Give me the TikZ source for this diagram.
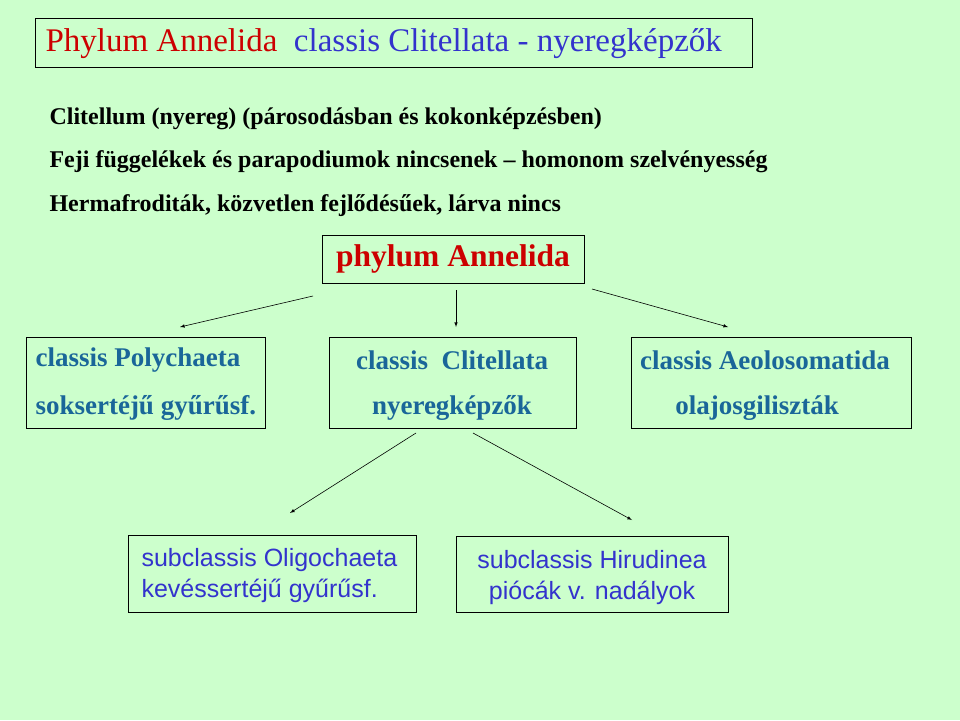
\documentclass[tikz,border=0pt]{standalone}
\usepackage{fontspec}
\setmainfont{Liberation Serif}
\setsansfont{Liberation Sans}
\definecolor{bggreen}{HTML}{CCFFCC}
\definecolor{titlered}{HTML}{CC0000}
\definecolor{titleblue}{HTML}{3333CC}
\definecolor{classblue}{HTML}{1A6699}
\begin{document}
\begin{tikzpicture}[x=1pt,y=-1pt]
\tikzstyle{box}=[draw, thick, inner sep=0pt]
\tikzstyle{line}=[font=\fontsize{24}{28}\selectfont\bfseries, anchor=west]
\tikzstyle{cls}=[text=classblue, font=\fontsize{27}{32}\selectfont\bfseries]
\tikzstyle{sub}=[text=titleblue, font=\sffamily\fontsize{25}{31}\selectfont]
  \fill[bggreen] (0,0) rectangle (960,720);
  \useasboundingbox (0,0) rectangle (960,720);

  % title
  \draw[thick] (35,18) rectangle (752,67);
  \node[anchor=west, font=\fontsize{33}{38}\selectfont] (title) at (42,44)
    {\textcolor{titlered}{Phylum Annelida}\ \ \textcolor{titleblue}{classis Clitellata - nyeregképzők}};

  \node[line] (l1) at (46,119) {Clitellum (nyereg) (párosodásban és kokonképzésben)};
  \node[line] (l2) at (46,162) {Feji függelékek és parapodiumok nincsenek -- homonom szelvényesség};
  \node[line] (l3) at (46,206) {Hermafroditák, közvetlen fejlődésűek, lárva nincs};

  \node[box, minimum width=262, minimum height=48, text=titlered,
    font=\fontsize{31.5}{36}\selectfont\bfseries] (phylum) at (453,259) {phylum Annelida};

  % classes
  \draw[thick] (26,337) rectangle (265,428);
  \node[cls, anchor=west] (poly) at (32,360) {classis Polychaeta};
  \node[cls, anchor=west] (polyhu) at (32,408) {soksertéjű gyűrűsf.};
  \draw[thick] (329,337) rectangle (576,428);
  \node[cls] (clit) at (452,360) {classis\ \ Clitellata};
  \node[cls] (clithu) at (452,408) {nyeregképzők};
  \draw[thick] (631,337) rectangle (911,428);
  \node[cls] (aeol) at (765,360) {classis Aeolosomatida};
  \node[cls] (aeolhu) at (757,408) {olajosgiliszták};

  % subclasses
  \draw[thick] (128,535) rectangle (416,612);
  \node[sub, align=left, anchor=west] (oligo) at (138,576)
    {subclassis Oligochaeta\\kevéssertéjű gyűrűsf.};
  \draw[thick] (456,536) rectangle (728,612);
  \node[align=center, sub] (hiru) at (592,578)
    {subclassis Hirudinea\\piócák v. nadályok};

  \coordinate (a1) at (313,296);
  \coordinate (a2) at (456,290);
  \coordinate (a3) at (592,289);
  \coordinate (a4) at (416,433);
  \coordinate (a5) at (473,433);
  \coordinate (p1) at (180,327);
  \coordinate (p2) at (456,327);
  \coordinate (p3) at (728,327);
  \coordinate (p4) at (290,513);
  \coordinate (p5) at (632,520);
  \draw[semithick,->,>=latex] (a1) -- (p1);
  \draw[semithick,->,>=latex] (a2) -- (p2);
  \draw[semithick,->,>=latex] (a3) -- (p3);
  \draw[semithick,->,>=latex] (a4) -- (p4);
  \draw[semithick,->,>=latex] (a5) -- (p5);
\end{tikzpicture}
\end{document}
